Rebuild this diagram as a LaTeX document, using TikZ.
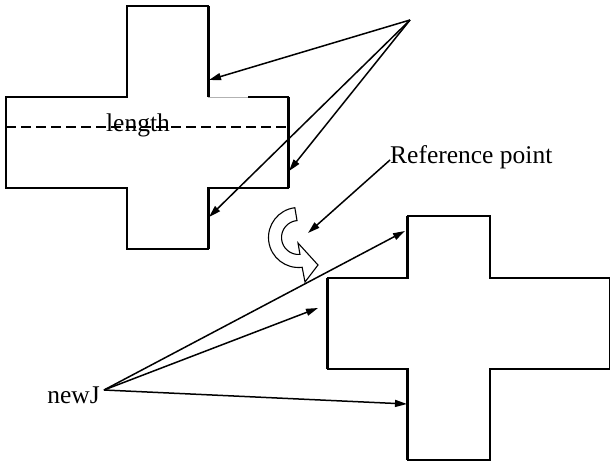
\documentclass[tikz,border=0pt]{standalone}
\usepackage{fontspec}
\setmainfont{Liberation Serif}
\usetikzlibrary{arrows.meta}

\begin{document}
\begin{tikzpicture}[x=1pt,y=1pt,
  outline/.style={line width=1.2pt,line join=miter},
  edge/.style={line width=2.8pt},
  midline/.style={line width=1.2pt,dash pattern=on 10pt off 5pt},
  arr/.style={-{Triangle[length=12pt,width=7pt]},line width=1.5pt},
  lbl/.style={font=\fontsize{25.5}{30}\selectfont,inner sep=0pt}]
  \useasboundingbox (0,0) rectangle (610,-463);

  % upper cross, before the turn
  \draw[outline] (208,-97) -- (208,-6) -- (127,-6) -- (127,-97) -- (6,-97)
    -- (6,-188) -- (127,-188) -- (127,-249) -- (208,-249) -- (208,-188)
    -- (288,-188) -- (288,-97) -- (248,-97);
  \draw[gray!60,line width=0.8pt] (208,-97) -- (248,-97);
  \draw[edge] (209,-6) -- (209,-97);
  \draw[edge] (289,-97) -- (289,-188);
  \draw[edge] (209,-188) -- (209,-249);
  \draw[midline] (6,-127) -- (288,-127);
  \node[lbl,anchor=base] (length) at (138,-131) {length};

  % lower cross, after the turn
  \draw[outline] (408,-216) -- (490,-216) -- (490,-278) -- (610,-278)
    -- (610,-369) -- (490,-369) -- (490,-460) -- (408,-460) -- (408,-369)
    -- (328,-369) -- (328,-278) -- (408,-278) -- cycle;
  \draw[edge] (407,-216) -- (407,-278);
  \draw[edge] (327,-278) -- (327,-369);
  \draw[edge] (407,-369) -- (407,-460);

  % turning arrow
  \coordinate (turn) at (298.5,-237.5);
  \draw[line width=1.1pt,fill=white] ([shift={(97:30)}]turn)
    arc[start angle=97,end angle=277,radius=30]
    -- (305,-282) -- (318,-265) -- (298,-243)
    -- ([shift={(275:17)}]turn)
    arc[start angle=275,end angle=95,radius=17] -- cycle;

  % labels
  \node[lbl,anchor=base west] (refpt) at (390,-163) {Reference point};
  \node[lbl,anchor=base east] (newj) at (100,-403) {newJ};

  % free ends of the arrows
  \coordinate (apex) at (410,-20);
  \coordinate (reffoot) at (390,-160);
  \coordinate (jfoot) at (104,-390);
  \coordinate (up1) at (209,-80);
  \coordinate (up2) at (289,-171);
  \coordinate (up3) at (209,-217);
  \coordinate (pivot) at (308,-233);
  \coordinate (lo1) at (405,-231);
  \coordinate (lo2) at (318,-308);
  \coordinate (lo3) at (407,-404);

  \draw[arr] (apex) -- (up1);
  \draw[arr] (apex) -- (up2);
  \draw[arr] (apex) -- (up3);
  \draw[arr] (reffoot) -- (pivot);
  \draw[arr] (jfoot) -- (lo1);
  \draw[arr] (jfoot) -- (lo2);
  \draw[arr] (jfoot) -- (lo3);
\end{tikzpicture}
\end{document}
